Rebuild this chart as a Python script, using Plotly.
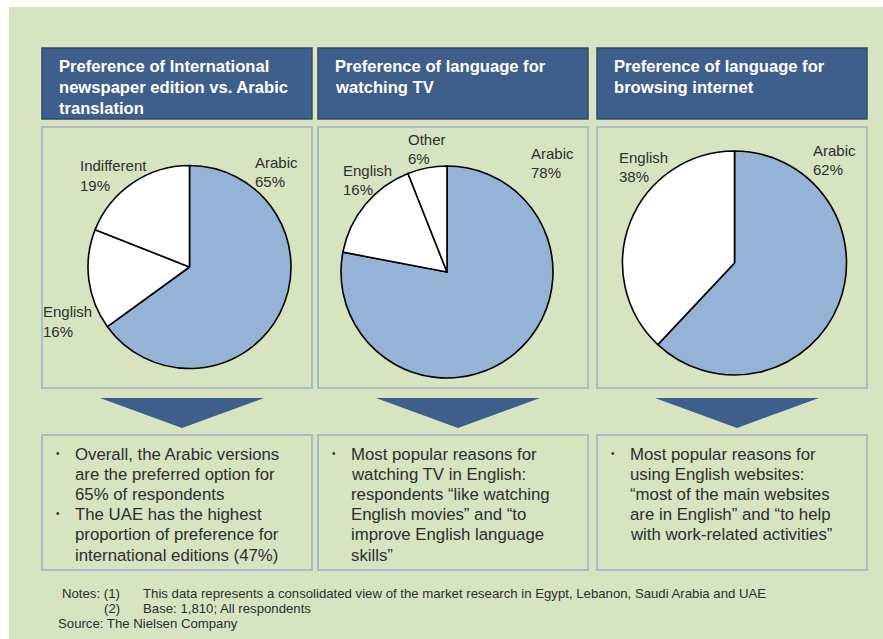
import plotly.graph_objects as go

W, H = 883, 639

# ---------------- data ----------------
titles = [
    ["Preference of International", "newspaper edition vs. Arabic", "translation"],
    ["Preference of language for", "watching TV"],
    ["Preference of language for", "browsing internet"],
]
pie1_labels = ["Arabic", "English", "Indifferent"]
pie1_values = [65, 16, 19]
pie2_labels = ["Arabic", "English", "Other"]
pie2_values = [78, 16, 6]
pie3_labels = ["Arabic", "English"]
pie3_values = [62, 38]

bullets1 = [
    ["Overall, the Arabic versions", "are the preferred option for", "65% of respondents"],
    ["The UAE has the highest", "proportion of preference for", "international editions (47%)"],
]
bullets2 = [
    ["Most popular reasons for", "watching TV in English:", "respondents “like watching",
     "English movies” and “to", "improve English language", "skills”"],
]
bullets3 = [
    ["Most popular reasons for", "using English websites:", "“most of the main websites",
     "are in English” and “to help", "with work-related activities”"],
]
notes = [
    ("Notes: (1)", "This data represents a consolidated view of the market research in Egypt, Lebanon, Saudi Arabia and UAE"),
    ("(2)", "Base: 1,810; All respondents"),
]
source = "Source: The Nielsen Company"

# ---------------- styles ----------------
FONT = "Liberation Sans, Arial, sans-serif"
GREEN = "#D6E4BF"
NAVY = "#3E5F8B"
NAVY_LINE = "#2F4B6F"
BOX_LINE = "#A9BDC6"
ARABIC = "#95B3D7"
TXT = "#2E2E2E"


def px(x):
    return x / W


def py(y):
    return 1 - y / H


fig = go.Figure()

cols = [(42, 312), (318, 588), (597, 867)]
pies = [
    (pie1_labels, pie1_values, (189.5, 267, 101.5)),
    (pie2_labels, pie2_values, (447, 272, 106)),
    (pie3_labels, pie3_values, (734.5, 263, 112)),
]

for labels, values, (cx, cy, r) in pies:
    colors = [ARABIC if l == "Arabic" else "white" for l in labels]
    fig.add_trace(go.Pie(
        labels=labels, values=values, sort=False, direction="clockwise",
        rotation=0, textinfo="none", hoverinfo="label+percent",
        marker=dict(colors=colors, line=dict(color="black", width=1.6)),
        domain=dict(x=[px(cx - r), px(cx + r)], y=[py(cy + r), py(cy - r)]),
        showlegend=False,
    ))

shapes = []
shapes.append(dict(type="rect", xref="paper", yref="paper", layer="below",
                   x0=px(9), x1=px(883), y0=py(639), y1=py(7),
                   fillcolor=GREEN, line=dict(width=0)))
for (x0, x1) in cols:
    shapes.append(dict(type="rect", xref="paper", yref="paper", layer="below",
                       x0=px(x0), x1=px(x1), y0=py(119), y1=py(48),
                       fillcolor=NAVY, line=dict(color=NAVY_LINE, width=1.5)))
    shapes.append(dict(type="rect", xref="paper", yref="paper", layer="below",
                       x0=px(x0), x1=px(x1), y0=py(388), y1=py(127),
                       fillcolor="rgba(0,0,0,0)", line=dict(color=BOX_LINE, width=2)))
    c = (x0 + x1) / 2 + 5
    path = f"M {px(c-82)},{py(398)} L {px(c+82)},{py(398)} L {px(c)},{py(428)} Z"
    shapes.append(dict(type="path", xref="paper", yref="paper", layer="below",
                       path=path, fillcolor=NAVY, line=dict(width=0)))
    shapes.append(dict(type="rect", xref="paper", yref="paper", layer="below",
                       x0=px(x0), x1=px(x1), y0=py(570), y1=py(435),
                       fillcolor="rgba(0,0,0,0)", line=dict(color=BOX_LINE, width=2)))

ann = []


def add_line(x, y, text, size, color=TXT, anchor="left", bold=False):
    t = f"<b>{text}</b>" if bold else text
    ann.append(dict(xref="paper", yref="paper", x=px(x), y=py(y),
                    xanchor=anchor, yanchor="middle", align=anchor, showarrow=False,
                    text=t, font=dict(family=FONT, size=size, color=color)))


# header titles
for (x0, x1), t in zip(cols, titles):
    for i, line in enumerate(t):
        add_line(x0 + 15, 67 + i * 20.5, line, 16.6, color="white", bold=True)

# pie labels (label, value)
label_pos = [
    {"Arabic": (253, 162), "English": (41, 312), "Indifferent": (78, 166)},
    {"Arabic": (529, 153), "English": (341, 170), "Other": (406, 139)},
    {"Arabic": (811, 150), "English": (617, 157)},
]
for (labels, values, _), pos in zip(pies, label_pos):
    for l, v in zip(labels, values):
        x, y = pos[l]
        add_line(x, y, l, 15)
        add_line(x, y + 19.5, f"{v}%", 15)

# bullet texts
LINE = 20.2
for (x0, x1), items in zip(cols, [bullets1, bullets2, bullets3]):
    y = 454
    for it in items:
        add_line(x0 + 16, y - 1, "•", 10, anchor="center")
        for line in it:
            add_line(x0 + 31, y, line, 16.8)
            y += LINE

# notes
ny = 593
for lab, txt in notes:
    add_line(122, ny, lab, 13.2, anchor="right")
    add_line(141, ny, txt, 13.2)
    ny += 15.5
add_line(56, 623, source, 13.2)

fig.update_layout(
    width=W, height=H, margin=dict(l=0, r=0, t=0, b=0),
    paper_bgcolor="white", plot_bgcolor="white",
    shapes=shapes, annotations=ann, showlegend=False,
)
fig.write_html("out.html", config={"displayModeBar": False})
